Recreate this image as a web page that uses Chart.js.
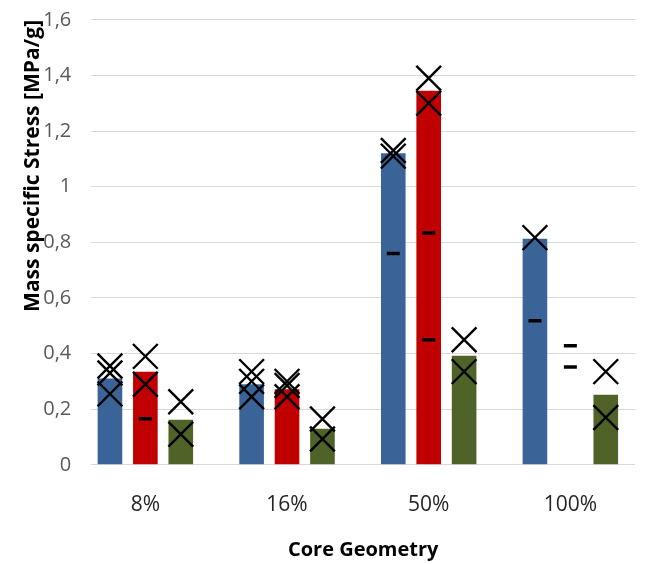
<!DOCTYPE html>
<html>
<head>
<meta charset="utf-8">
<script src="https://cdn.jsdelivr.net/npm/chart.js@4"></script>
<style>
  html, body { margin: 0; padding: 0; background: #fff; }
</style>
</head>
<body>
<canvas id="chart" width="655" height="564"></canvas>
<script>
// categories and tick values
const categories = ['8%', '16%', '50%', '100%'];
const yTickValues = [0, 0.2, 0.4, 0.6, 0.8, 1, 1.2, 1.4, 1.6];
const seriesNames = ['Series 1', 'Series 2', 'Series 3'];

// bar heights (mean values)
const blueMean = [0.31, 0.29, 1.12, 0.813];
const redMean = [0.335, 0.272, 1.345, null];
const greenMean = [0.162, 0.13, 0.392, 0.252];

// single measurements shown as X per category
const blueCross = [[0.355, 0.33, 0.255], [0.335, 0.30, 0.245], [1.13, 1.11], [0.817]];
const redCross = [[0.39, 0.29], [0.30, 0.285, 0.245], [1.39, 1.30], []];
const greenCross = [[0.227, 0.11], [0.165, 0.093], [0.45, 0.335], [0.335, 0.17]];

// values shown as short dashes
const blueDash = [[], [], [0.76], [0.518]];
const redDash = [[0.166], [], [0.834, 0.45], [0.428, 0.352]];
const greenDash = [[], [], [], []];

const colors = ['#3A6497', '#C00000', '#4F6228'];
const catPct = 0.75;

// position d'un point sur la barre de sa serie
function toPoints(lists, s) {
  const offset = (s - 1) * catPct / 3;
  const pts = [];
  lists.forEach((vals, i) => {
    vals.forEach(v => pts.push({ x: i + offset, y: v }));
  });
  return pts;
}

const means = [blueMean, redMean, greenMean];
const crosses = [blueCross, redCross, greenCross];
const dashes = [blueDash, redDash, greenDash];

const datasets = [];
means.forEach((m, s) => {
  datasets.push({
    type: 'bar',
    label: seriesNames[s],
    data: m.map((v, i) => ({ x: i, y: v })),
    backgroundColor: colors[s],
    borderWidth: 0,
    categoryPercentage: catPct,
    barPercentage: 0.695,
    order: 2
  });
});
crosses.forEach((c, s) => {
  datasets.push({
    type: 'scatter',
    label: seriesNames[s] + ' X',
    data: toPoints(c, s),
    pointStyle: 'crossRot',
    pointRadius: 17.5,
    pointBorderWidth: 2.4,
    borderColor: '#000',
    backgroundColor: '#000',
    order: 1
  });
});
dashes.forEach((d, s) => {
  datasets.push({
    type: 'scatter',
    label: seriesNames[s] + ' -',
    data: toPoints(d, s),
    pointStyle: 'line',
    pointRadius: 6.5,
    pointBorderWidth: 3.5,
    borderColor: '#000',
    backgroundColor: '#000',
    order: 1
  });
});

const fontFam = "'Open Sans', 'Noto Sans', sans-serif";

new Chart(document.getElementById('chart'), {
  type: 'bar',
  data: { datasets: datasets },
  options: {
    responsive: false,
    animation: false,
    layout: { padding: { top: 7, right: 0, bottom: 2, left: 12 } },
    plugins: {
      legend: { display: false },
      tooltip: { enabled: false }
    },
    scales: {
      x: {
        type: 'linear',
        offset: false,
        min: -0.382,
        max: 3.457,
        grid: { display: false },
        border: { display: false },
        ticks: {
          stepSize: 1,
          includeBounds: false,
          padding: 20,
          color: '#262626',
          font: { family: fontFam, size: 21 },
          callback: v => categories[v] !== undefined ? categories[v] : ''
        },
        title: {
          display: true,
          text: 'Core Geometry',
          color: '#000',
          font: { family: fontFam, size: 20, weight: 'bold' },
          padding: { top: 0, bottom: 0 }
        }
      },
      y: {
        min: 0,
        max: 1.6,
        afterBuildTicks: axis => { axis.ticks = yTickValues.map(v => ({ value: v })); },
        // le padding des ticks ne doit pas decaler le haut du graphe
        afterFit: axis => { axis.paddingTop = 12; axis.paddingBottom = 12; },
        grid: { color: '#d9d9d9', lineWidth: 1, drawTicks: false },
        border: { display: false },
        ticks: {
          padding: 20,
          color: '#595959',
          font: { family: fontFam, size: 20 },
          callback: v => Number.isInteger(v) ? String(v) : v.toFixed(1).replace('.', ',')
        },
        title: {
          display: true,
          text: 'Mass specific Stress [MPa/g]',
          align: 'end',
          color: '#000',
          font: { family: fontFam, size: 21, weight: 'bold' },
          padding: { top: 8, bottom: -22 }
        }
      }
    }
  }
});
</script>
</body>
</html>
